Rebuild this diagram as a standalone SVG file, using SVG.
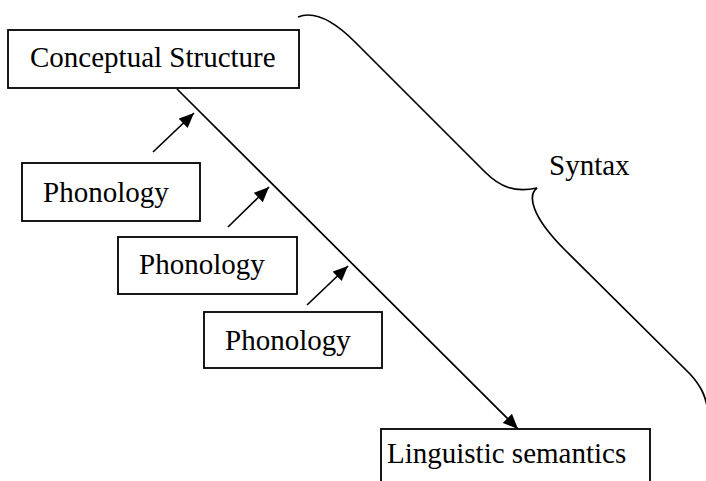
<svg xmlns="http://www.w3.org/2000/svg" width="706" height="481" viewBox="0 0 706 481">
  <style>
    .box { fill: #fff; stroke: #000; stroke-width: 1.8; }
    .lbl { font-family: "Liberation Serif", "Times New Roman", serif; font-size: 29px; fill: #000; }
    .edge { fill: none; stroke: #000; stroke-width: 1.7; }
  </style>
  <defs>
    <marker id="arrow" markerUnits="userSpaceOnUse" markerWidth="16" markerHeight="14" refX="15" refY="6.5" orient="auto">
      <path d="M0,0 L15,6.5 L0,13 Z" fill="#000"/>
    </marker>
  </defs>
  <rect width="706" height="481" fill="#fff"/>

  <g id="connectors">
    <line class="edge" x1="177" y1="89" x2="518" y2="429" marker-end="url(#arrow)"/>
    <line class="edge" x1="153" y1="152" x2="194" y2="113" marker-end="url(#arrow)"/>
    <line class="edge" x1="228" y1="227" x2="269" y2="187" marker-end="url(#arrow)"/>
    <line class="edge" x1="307" y1="305" x2="348" y2="266" marker-end="url(#arrow)"/>
  </g>

  <g id="syntax-brace">
    <path class="edge" d="M298,17 C315,10 335,22 355,42 L485,172 C500,187 515,193 537,188"/>
    <path class="edge" d="M537,188 C528,195 530,215 565,250 L690,374 C700,385 706,395 708,412"/>
    <text class="lbl" x="549" y="175">Syntax</text>
  </g>

  <g id="conceptual-structure">
    <rect class="box" x="8" y="30" width="291" height="58"/>
    <text class="lbl" x="30" y="67">Conceptual Structure</text>
  </g>

  <g id="phonology-1">
    <rect class="box" x="22" y="163" width="178" height="58"/>
    <text class="lbl" x="43" y="202">Phonology</text>
  </g>

  <g id="phonology-2">
    <rect class="box" x="118" y="237" width="179" height="57"/>
    <text class="lbl" x="139" y="274">Phonology</text>
  </g>

  <g id="phonology-3">
    <rect class="box" x="204" y="312" width="178" height="56"/>
    <text class="lbl" x="225" y="350">Phonology</text>
  </g>

  <g id="linguistic-semantics">
    <rect class="box" x="381" y="429" width="269" height="60"/>
    <text class="lbl" x="387" y="463">Linguistic semantics</text>
  </g>
</svg>
